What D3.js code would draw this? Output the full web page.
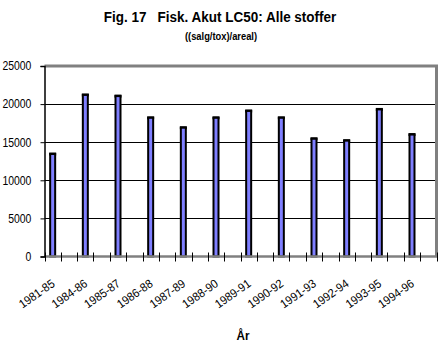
<!DOCTYPE html>
<html><head><meta charset="utf-8">
<script src="https://cdn.jsdelivr.net/npm/d3@7"></script>
<style>
body{margin:0;background:#fff;}
svg{display:block;}
text{font-family:"Liberation Sans",Arial,sans-serif;fill:#000;}
</style></head>
<body>
<script>
const categories = ["1981-85","1984-86","1985-87","1986-88","1987-89","1988-90","1989-91","1990-92","1991-93","1992-94","1993-95","1994-96"];
const values = [13450,21200,21050,18200,16900,18200,19100,18200,15450,15200,19300,16000];
const yTicks = [0,5000,10000,15000,20000,25000];
const title = "Fig. 17   Fisk. Akut LC50: Alle stoffer";
const subtitle = "((salg/tox)/areal)";
const xTitle = "År";

const W = 446, H = 348;
const L = 44.5, R = 436.5, T = 66, B = 256.5;

const svg = d3.select("body").append("svg").attr("width", W).attr("height", H);

const x = d3.scaleBand().domain(categories).range([L, R]).padding(0);
const y = d3.scaleLinear().domain([0, 25000]).range([B, T]);
const bw = x.bandwidth();

// titles (condensed)
svg.append("text").attr("transform", "translate(220,22) scale(0.87,1)").attr("text-anchor", "middle")
  .attr("font-size", 15.5).attr("font-weight", "bold").style("white-space","pre").text(title);
svg.append("text").attr("transform", "translate(221,40) scale(0.85,1)").attr("text-anchor", "middle")
  .attr("font-size", 11).attr("font-weight", "bold").text(subtitle);

// gridlines
svg.append("g").selectAll("line").data(yTicks.filter(d => d > 0 && d < 25000)).join("line")
  .attr("x1", L).attr("x2", R).attr("y1", d => Math.round(y(d)) + 0.5).attr("y2", d => Math.round(y(d)) + 0.5)
  .attr("stroke", "#000").attr("stroke-width", 1);

// gray border top & right
svg.append("path").attr("d", `M${L},${T} H${R} V${B}`).attr("fill", "none")
  .attr("stroke", "#808080").attr("stroke-width", 3);

// bars
const bars = svg.append("g");
bars.selectAll("rect.sh").data(values).join("rect").attr("class","sh")
  .attr("x", (d, i) => x(categories[i]) + bw * 0.25 - 3.5)
  .attr("y", d => y(d) - 1.5)
  .attr("width", 7).attr("height", 3)
  .attr("fill", "#000");
bars.selectAll("rect.b").data(values).join("rect").attr("class","b")
  .attr("x", (d, i) => x(categories[i]) + bw * 0.25 - 2.5)
  .attr("y", d => y(d))
  .attr("width", 5).attr("height", d => B - y(d))
  .attr("fill", "#7f7fff").attr("stroke", "#000").attr("stroke-width", 2);

// x axis line (gray)
svg.append("line").attr("x1", L).attr("x2", R + 1).attr("y1", B).attr("y2", B)
  .attr("stroke", "#808080").attr("stroke-width", 2.5);

// x ticks (cross)
const xt = [];
categories.forEach(c => { xt.push(x(c)); xt.push(x(c) + bw / 2); });
xt.push(R);
svg.append("g").selectAll("line").data(xt).join("line")
  .attr("x1", d => Math.round(d) + 0.5).attr("x2", d => Math.round(d) + 0.5)
  .attr("y1", B - 4).attr("y2", B + 5).attr("stroke", "#000").attr("stroke-width", 1);

// y axis
const yAxis = d3.axisLeft(y).tickValues(yTicks).tickSize(4).tickPadding(3).tickFormat(d3.format("d"));
const ya = svg.append("g").attr("transform", `translate(${L},0)`).call(yAxis);
ya.select(".domain").attr("stroke", "#000").attr("stroke-width", 1.5);
ya.selectAll(".tick line").attr("stroke", "#000");
ya.selectAll(".tick text").attr("font-size", 12).attr("font-family", null)
  .attr("transform", "translate(-7,0) scale(0.87,1)");

// x labels
svg.append("g").selectAll("text").data(categories).join("text")
  .attr("transform", c => `translate(${x(c) + bw * 0.25 + 3},${B + 29}) rotate(-35) scale(0.92,1)`)
  .attr("text-anchor", "end").attr("font-size", 12).text(c => c);

// x title
svg.append("text").attr("transform", "translate(243,340) scale(0.9,1)").attr("text-anchor", "middle")
  .attr("font-size", 13).attr("font-weight", "bold").text(xTitle);
</script>
</body></html>
